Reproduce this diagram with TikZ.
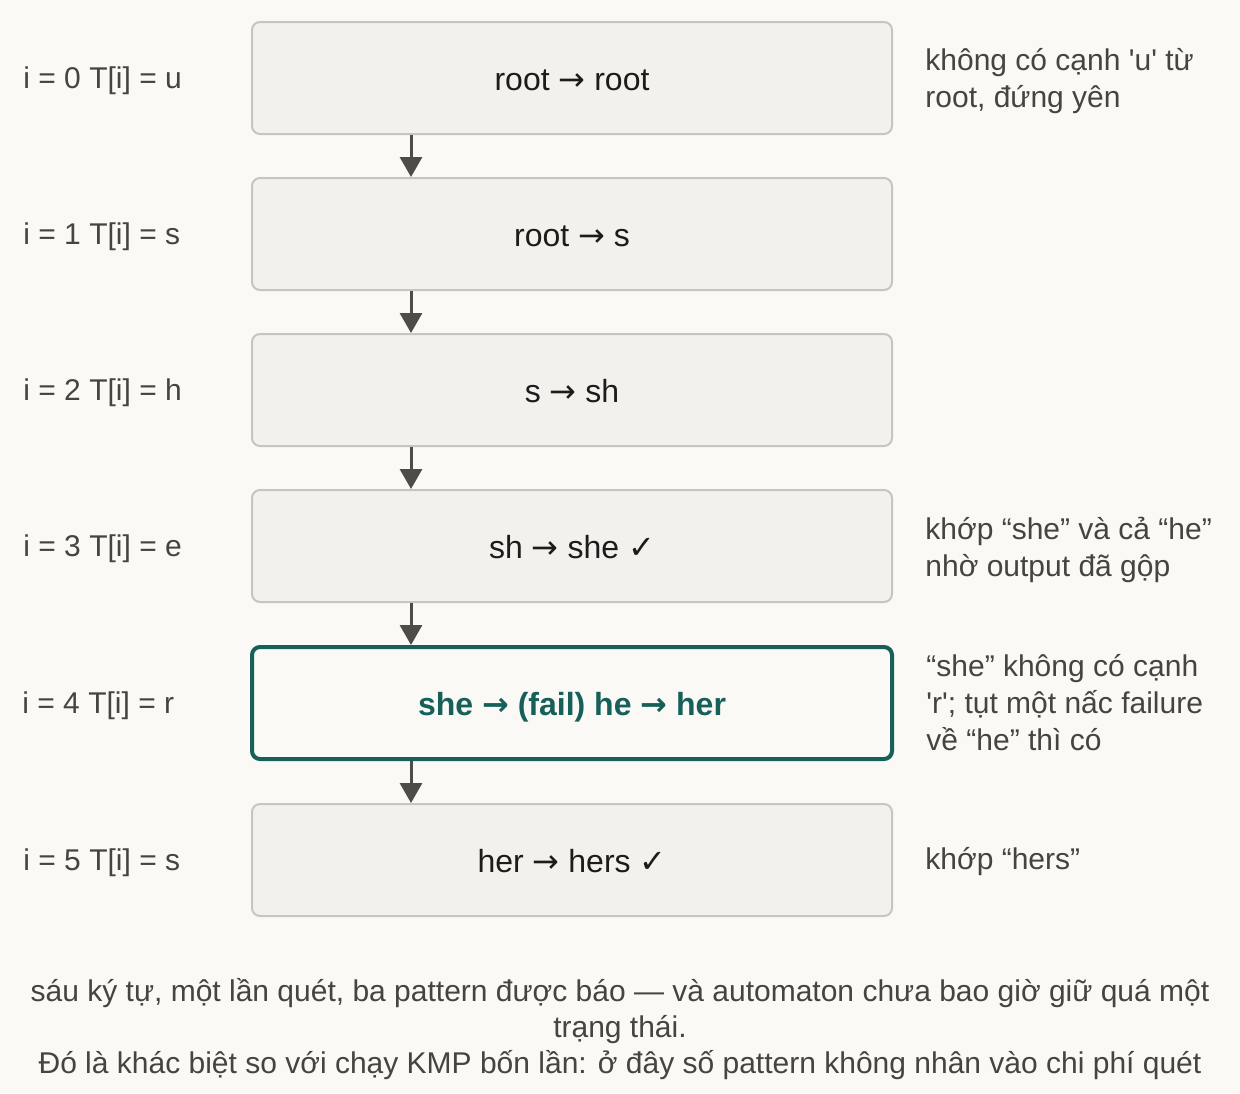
\documentclass[tikz,border=0pt]{standalone}
\usepackage{fontspec}
\setmainfont{Liberation Sans}[Ligatures=TeXOff]
\newfontfamily\symfont{DejaVu Sans}
\usetikzlibrary{positioning,arrows.meta}
\definecolor{bg}{HTML}{FAF9F6}
\definecolor{boxfill}{HTML}{F2F1EE}
\definecolor{boxline}{HTML}{C9C5BD}
\definecolor{arrowc}{HTML}{4E4C46}
\definecolor{tealc}{HTML}{17605A}
\definecolor{ink}{HTML}{1C1C1A}
\definecolor{side}{HTML}{45443E}
\tikzset{>={Triangle[length=10pt,width=11pt]}}
\newcommand{\ok}{{\symfont\bfseries\char"2713}}
\newcommand{\arr}{{\symfont\char"2192}}

\begin{document}
\begin{tikzpicture}[node distance=21pt,
    stepbox/.style={draw=boxline, fill=boxfill, line width=1pt, rounded corners=4pt,
        minimum width=320pt, minimum height=56pt, text height=12pt, text depth=0pt,
        text=ink, font=\fontsize{16}{18}\selectfont},
    hotbox/.style={stepbox, draw=tealc, fill=bg, line width=2pt, text=tealc,
        font=\fontsize{16}{18}\selectfont\bfseries},
    lbl/.style={anchor=west, inner sep=0pt, text height=10.5pt, text depth=0pt,
        text=side, font=\fontsize{15}{18}\selectfont},
    note/.style={inner sep=0pt, align=left, text=side, font=\fontsize{15}{18.5}\selectfont},
    flow/.style={->, draw=arrowc, line width=1.5pt}]
    % background
    \fill[bg] (0,0) rectangle (620pt,-546.5pt);
    \useasboundingbox (0,0) rectangle (620pt,-546.5pt);

    % Steps
    \node[stepbox] (b0) at (286pt,-39pt) {root \arr{} root};
    \node[stepbox, below=of b0] (b1) {root \arr{} s};
    \node[stepbox, below=of b1] (b2) {s \arr{} sh};
    \node[stepbox, below=of b2] (b3) {sh \arr{} she \ok};
    \node[hotbox, below=of b3] (b4) {she {\symfont\bfseries\char"2192} (fail) he {\symfont\bfseries\char"2192} her};
    \node[stepbox, below=of b4] (b5) {her \arr{} hers \ok};

    % Input characters
    \node[lbl] (l0) at ([xshift=-114pt]b0.west) {i = 0 T[i] = u};
    \node[lbl] (l1) at ([xshift=-114pt]b1.west) {i = 1 T[i] = s};
    \node[lbl] (l2) at ([xshift=-114pt]b2.west) {i = 2 T[i] = h};
    \node[lbl] (l3) at ([xshift=-114pt]b3.west) {i = 3 T[i] = e};
    \node[lbl] (l4) at ([xshift=-114pt]b4.west) {i = 4 T[i] = r};
    \node[lbl] (l5) at ([xshift=-114pt]b5.west) {i = 5 T[i] = s};

    % Notes
    \node[note, right=16pt of b0, yshift=-1.5pt] (n0) {không có cạnh 'u' từ\\root, đứng yên};
    \node[note, right=16pt of b3, yshift=-1.75pt] (n3) {khớp “she” và cả “he”\\nhờ output đã gộp};
    \node[note, right=16pt of b4] (n4) {“she” không có cạnh\\'r'; tụt một nấc failure\\về “he” thì có};
    \node[note, right=16pt of b5, yshift=-1pt] (n5) {khớp “hers”};

    % Arrows
    \foreach \a/\b in {b0/b1, b1/b2, b2/b3, b3/b4, b4/b5}
        \draw[flow] ([xshift=-80.5pt]\a.south) -- ([xshift=-80.5pt]\b.north);

    % Caption
    \node[note, align=center, font=\fontsize{15}{17.8}\selectfont] (cap) at (310pt,-514.5pt)
        {sáu ký tự, một lần quét, ba pattern được báo — và automaton chưa bao giờ giữ quá một\\
         trạng thái.\\
         Đó là khác biệt so với chạy KMP bốn lần: ở đây số pattern không nhân vào chi phí quét};
\end{tikzpicture}
\end{document}
